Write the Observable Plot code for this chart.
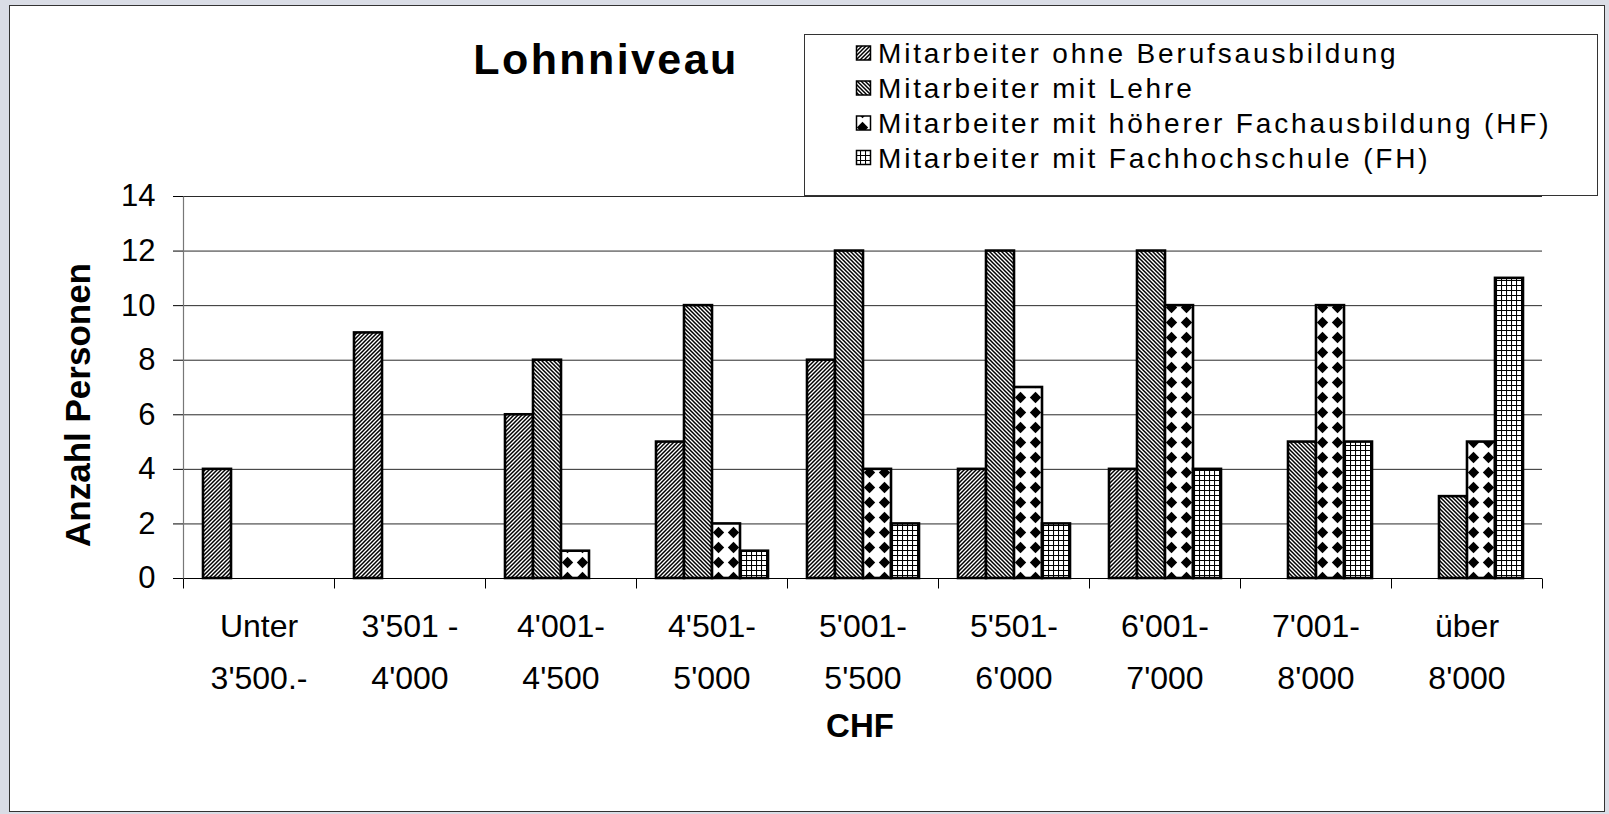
<!DOCTYPE html>
<html>
<head>
<meta charset="utf-8">
<script src="https://cdn.jsdelivr.net/npm/d3@7"></script>
<script src="https://cdn.jsdelivr.net/npm/@observablehq/plot@0.6"></script>
<style>
html, body { margin: 0; padding: 0; }
body { width: 1609px; height: 814px; background: #dadde6; position: relative; overflow: hidden;
  font-family: "Liberation Sans", Arial, sans-serif; }
#panel { position: absolute; left: 9px; top: 5px; width: 1596px; height: 807px; background: #fff;
  border: 1px solid #333; box-sizing: border-box; }
#chart { position: absolute; left: 0; top: 0; }
#chart svg { display: block; }
#overlay { position: absolute; left: 0; top: 0; }
</style>
</head>
<body>
<svg width="0" height="0" style="position:absolute">
  <defs>
    <pattern id="pat0" patternUnits="userSpaceOnUse" width="4" height="4">
      <rect width="4" height="4" fill="#fff"/>
      <path d="M-1,1 l2,-2 M0,4 l4,-4 M3,5 l2,-2" stroke="#000" stroke-width="1.5"/>
    </pattern>
    <pattern id="pat1" patternUnits="userSpaceOnUse" width="4" height="4">
      <rect width="4" height="4" fill="#fff"/>
      <path d="M-1,3 l2,2 M0,0 l4,4 M3,-1 l2,2" stroke="#000" stroke-width="1.5"/>
    </pattern>
    <pattern id="pat2" patternUnits="userSpaceOnUse" width="15" height="15">
      <rect width="15" height="15" fill="#fff"/>
      <path d="M7.5,1.8 L13.2,7.5 L7.5,13.2 L1.8,7.5 Z" fill="#000"/>
    </pattern>
    <pattern id="pat3" patternUnits="userSpaceOnUse" width="5" height="5">
      <rect width="5" height="5" fill="#fff"/>
      <path d="M0,0.5 H5 M0.5,0 V5" stroke="#000" stroke-width="1.1"/>
    </pattern>
  </defs>
</svg>
<div id="panel"></div>
<div id="chart"></div>
<svg id="overlay" width="1609" height="814"></svg>
<script>
// ---- data ----
const categories = ["Unter 3'500.-", "3'501 - 4'000", "4'001-4'500", "4'501-5'000", "5'001-5'500",
  "5'501-6'000", "6'001-7'000", "7'001-8'000", "über 8'000"];
const categoryLabels = ["Unter\n3'500.-", "3'501 -\n4'000", "4'001-\n4'500", "4'501-\n5'000", "5'001-\n5'500",
  "5'501-\n6'000", "6'001-\n7'000", "7'001-\n8'000", "über\n8'000"];
const seriesNames = ["Mitarbeiter ohne Berufsausbildung", "Mitarbeiter mit Lehre",
  "Mitarbeiter mit höherer Fachausbildung (HF)", "Mitarbeiter mit Fachhochschule (FH)"];
const ohneBerufsausbildung = [4, 9, 6, 5, 8, 4, 4, 0, 0];
const mitLehre             = [0, 0, 8, 10, 12, 12, 12, 5, 3];
const hoehereFachausbildung = [0, 0, 1, 2, 4, 7, 10, 10, 5];
const fachhochschule       = [0, 0, 0, 1, 2, 2, 4, 5, 11];
const yTicks = [0, 2, 4, 6, 8, 10, 12, 14];
const titleText = "Lohnniveau";
const yLabel = "Anzahl Personen";
const xLabel = "CHF";
const patternIds = ["pat0", "pat1", "pat2", "pat3"];

const seriesValues = [ohneBerufsausbildung, mitLehre, hoehereFachausbildung, fachhochschule];
const table = [];
categories.forEach((c, i) => seriesNames.forEach((s, j) => {
  const v = seriesValues[j][i];
  if (v > 0) table.push({cat: c, series: s, value: v, fill: `url(#${patternIds[j]})`});
}));

const W = 1609, H = 814;
const mL = 180, mR = 65, mT = 196, mB = 236;
const innerH = H - mT - mB;
const font = "'Liberation Sans', Arial, sans-serif";

const tickDown = {draw(ctx) { ctx.moveTo(0, 0); ctx.lineTo(0, 10); }};
const axisLine = {draw(ctx) { ctx.moveTo(0, -innerH / 2); ctx.lineTo(0, innerH / 2); }};
const labelOf = new Map(categories.map((c, i) => [c, categoryLabels[i]]));

const chart = Plot.plot({
  width: W, height: H,
  marginLeft: mL, marginRight: mR, marginTop: mT, marginBottom: mB,
  style: {fontFamily: font, color: "#000", background: "transparent", overflow: "visible"},
  fx: {domain: categories, padding: 0},
  x: {domain: seriesNames, paddingInner: 0, paddingOuter: 0.64, axis: null},
  y: {domain: [0, 14]},
  color: {type: "identity"},
  marks: [
    Plot.ruleY(yTicks.filter(t => t > 0), {stroke: "#2a2a2a", strokeWidth: 1}),
    Plot.barY(table, {fx: "cat", x: "series", y: "value", fill: "fill", stroke: "#000", strokeWidth: 2.6, inset: 0}),
    Plot.ruleY([0], {stroke: "#000", strokeWidth: 1.2}),
    Plot.dot(categories, {fx: d => d, frameAnchor: "bottom-left", symbol: tickDown, stroke: "#000", fill: "none", strokeWidth: 1}),
    Plot.dot([categories[categories.length - 1]], {fx: d => d, frameAnchor: "bottom-right", symbol: tickDown, stroke: "#000", fill: "none", strokeWidth: 1}),
    Plot.dot([categories[0]], {fx: d => d, frameAnchor: "left", symbol: axisLine, stroke: "#777", fill: "none", strokeWidth: 1.2}),
    Plot.axisY({ticks: yTicks, tickSize: 10, tickPadding: 18, fontSize: 31, label: null, stroke: "#000", fill: "#000"}),
    Plot.axisFx({anchor: "bottom", tickSize: 0, tickPadding: 22, fontSize: 32, lineHeight: 1.62,
      label: null, tickFormat: d => labelOf.get(d), fill: "#000"})
  ]
});
document.getElementById("chart").appendChild(chart);

// ---- title, axis titles, legend ----
const ov = d3.select("#overlay").style("font-family", font);
ov.append("text").attr("x", 606).attr("y", 74).attr("text-anchor", "middle")
  .attr("font-size", 43).attr("font-weight", "bold").attr("letter-spacing", 2.4).text(titleText);
ov.append("text").attr("transform", "translate(90,405) rotate(-90)").attr("text-anchor", "middle")
  .attr("font-size", 35).attr("font-weight", "bold").text(yLabel);
ov.append("text").attr("x", 860).attr("y", 737).attr("text-anchor", "middle")
  .attr("font-size", 33).attr("font-weight", "bold").text(xLabel);

const lg = ov.append("g");
lg.append("rect").attr("x", 804.5).attr("y", 34.5).attr("width", 793).attr("height", 161)
  .attr("fill", "#fff").attr("stroke", "#333").attr("stroke-width", 1);
const rowY = [53, 88, 123, 157.5];
seriesNames.forEach((s, j) => {
  lg.append("rect").attr("x", 856.5).attr("y", rowY[j] - 7).attr("width", 14).attr("height", 14)
    .attr("fill", `url(#${patternIds[j]})`).attr("stroke", "#000").attr("stroke-width", 1.5);
  lg.append("text").attr("x", 878).attr("y", rowY[j] + 10).attr("font-size", 28)
    .attr("letter-spacing", 2.85).text(s);
});
</script>
</body>
</html>
